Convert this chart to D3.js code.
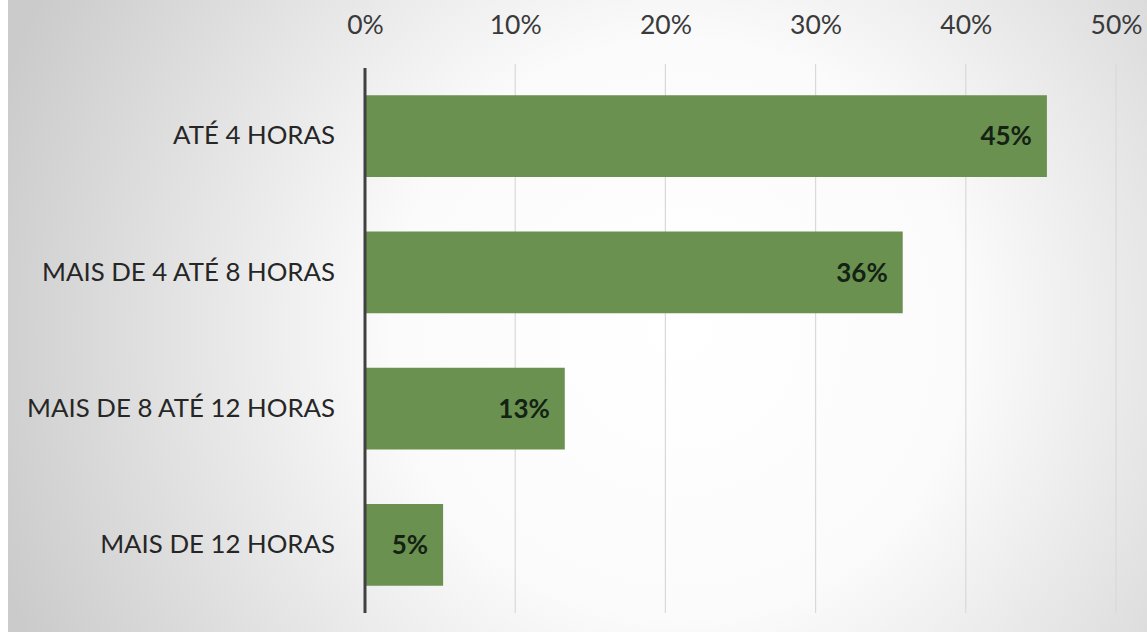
<!DOCTYPE html>
<html><head><meta charset="utf-8">
<script src="https://cdn.jsdelivr.net/npm/d3@7"></script>
<style>html,body{margin:0;padding:0;background:#fff;}svg{display:block;}</style>
</head><body>
<script>
const categories = ["ATÉ 4 HORAS","MAIS DE 4 ATÉ 8 HORAS","MAIS DE 8 ATÉ 12 HORAS","MAIS DE 12 HORAS"];
const values = [45.4, 35.8, 13.3, 5.2];
const valueLabels = ["45%","36%","13%","5%"];
const tickValues = [0,10,20,30,40,50];
const tickLabels = ["0%","10%","20%","30%","40%","50%"];

const W = 1147, H = 632;
const svg = d3.select("body").append("svg").attr("width", W).attr("height", H);
const defs = svg.append("defs");
const rg = defs.append("radialGradient").attr("id","bg").attr("gradientUnits","userSpaceOnUse")
  .attr("cx",680).attr("cy",330).attr("r",720);
rg.append("stop").attr("offset","0%").attr("stop-color","#ffffff");
rg.append("stop").attr("offset","40%").attr("stop-color","#fbfbfb");
rg.append("stop").attr("offset","100%").attr("stop-color","#cbcbcb");
svg.append("rect").attr("width",W).attr("height",H).attr("fill","#fff");
svg.append("rect").attr("x",8).attr("width",W-8).attr("height",H).attr("fill","url(#bg)");

const x = d3.scaleLinear().domain([0,50]).range([365,1116]);
const y = d3.scaleBand().domain(categories).range([68,613]).paddingInner(0.4).paddingOuter(0.2);

const font = "Lato, 'Open Sans', sans-serif";

// gridlines
svg.append("g").selectAll("line").data(tickValues.filter(d=>d>0)).join("line")
  .attr("x1",d=>x(d)).attr("x2",d=>x(d)).attr("y1",64).attr("y2",613)
  .attr("stroke","#d9d9d9").attr("stroke-width",1.2);

// top axis labels
const ax = svg.append("g").attr("transform","translate(0,37)")
  .call(d3.axisTop(x).tickValues(tickValues).tickFormat((d,i)=>tickLabels[i]).tickSize(0));
ax.select(".domain").remove();
ax.selectAll("text").attr("font-family",font).attr("font-size",26.5).attr("fill","#3a3a3a").attr("dy",0);

// bars
svg.append("g").selectAll("rect").data(values).join("rect")
  .attr("x",x(0)).attr("y",(d,i)=>y(categories[i]))
  .attr("width",d=>x(d)-x(0)).attr("height",y.bandwidth())
  .attr("fill","#6a914f");

// value labels
svg.append("g").selectAll("text").data(values).join("text")
  .attr("x",d=>x(d)-15).attr("y",(d,i)=>y(categories[i])+y.bandwidth()/2)
  .attr("dy","0.36em").attr("text-anchor","end")
  .attr("font-family",font).attr("font-weight","bold").attr("font-size",26)
  .attr("fill","#142214").text((d,i)=>valueLabels[i]);

// category labels
const ay = svg.append("g").attr("transform","translate(365,0)")
  .call(d3.axisLeft(y).tickSize(0).tickPadding(30));
ay.select(".domain").remove();
ay.selectAll("text").attr("font-family",font).attr("font-size",25.8).attr("fill","#262626");

// vertical axis line
svg.append("line").attr("x1",x(0)).attr("x2",x(0)).attr("y1",68).attr("y2",613)
  .attr("stroke","#404040").attr("stroke-width",3);
</script>
</body></html>
